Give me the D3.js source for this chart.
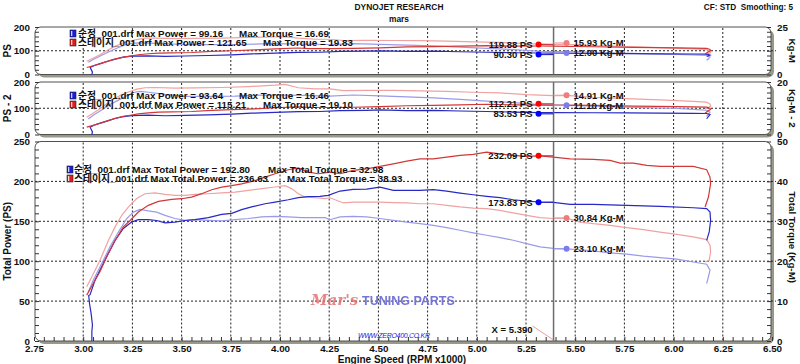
<!DOCTYPE html>
<html><head><meta charset="utf-8">
<script src="https://cdn.jsdelivr.net/npm/d3@7"></script>
<style>
body{margin:0;background:#fff}
svg text{font-family:"Liberation Sans",Arial,"Noto Sans CJK KR",sans-serif;font-weight:bold;font-size:9.8px;fill:#111}
</style></head>
<body><svg id="c" width="800" height="364"></svg>
<script>
// ---------------- DATA ----------------
const rpmTicks = [2.75,3.00,3.25,3.50,3.75,4.00,4.25,4.50,4.75,5.00,5.25,5.50,5.75,6.00,6.25,6.50];
const files = ["순정_001.drf","스테이지_001.drf"];
const cursorRpm = 5.39;
// per panel: [PS, PS - 2, Total]
const stockMaxPower = [99.16, 93.64, 192.80];
const stockMaxTorque = [16.69, 16.46, 32.98];
const stageMaxPower = [121.65, 115.21, 236.63];
const stageMaxTorque = [19.83, 19.10, 38.93];
const stockPowerAtCursor = [90.30, 83.53, 173.83];
const stagePowerAtCursor = [119.88, 112.21, 232.09];
const stockTorqueAtCursor = [12.00, 11.10, 23.10];
const stageTorqueAtCursor = [15.93, 14.91, 30.84];

// Panel 1 (PS), [rpm x1000, value]
const stockPower1 = [[3.044,0],[3.047,10],[3.035,30],[3.06,39],[3.094,48],[3.128,57],[3.162,65],[3.204,73],[3.246,77],[3.33,78.5],[3.416,76.5],[3.517,78],[3.636,80],[3.755,82.7],[3.856,86.8],[3.975,90],[4.093,92.8],[4.203,93.7],[4.305,97.1],[4.44,98.4],[4.508,99.16],[4.644,97.6],[4.779,98],[4.915,95.8],[5.05,93.7],[5.185,91.5],[5.32,90.5],[5.389,90.3],[5.592,88.5],[5.762,87.9],[5.931,87.2],[6.1,86.3],[6.168,85.7],[6.185,82],[6.168,76]];
const stagePower1 = [[3.018,29.6],[3.051,37],[3.085,44.6],[3.119,54.2],[3.162,64.8],[3.204,73.5],[3.238,77.6],[3.28,83.1],[3.331,87.4],[3.382,90],[3.45,91.2],[3.551,92.7],[3.653,97.5],[3.755,100],[3.873,103.3],[3.975,107.7],[4.093,111.5],[4.144,108.8],[4.254,108.8],[4.372,109.9],[4.508,112.5],[4.644,115.9],[4.779,117.3],[4.915,119.5],[5.05,121.65],[5.185,119.5],[5.32,119.9],[5.389,119.88],[5.592,116.9],[5.796,114.6],[6.016,112.5],[6.168,110.3],[6.185,105.6],[6.188,101.2],[6.16,86.4]];
const stockTorque1 = [[3.026,6.4],[3.051,7.9],[3.094,10.1],[3.136,12.2],[3.179,14.2],[3.221,15.9],[3.255,16.5],[3.289,16.69],[3.331,16.5],[3.416,16.2],[3.517,15.7],[3.636,15.7],[3.772,15.8],[3.907,16.1],[3.975,16.2],[4.11,16.0],[4.254,15.8],[4.372,16.2],[4.508,15.9],[4.644,15.5],[4.779,15.05],[4.915,14.4],[5.05,13.75],[5.185,13.1],[5.321,12.25],[5.389,12.0],[5.457,12.0],[5.677,11.45],[5.847,11.0],[6.016,10.6],[6.1,10.3],[6.168,10.0],[6.185,9.2],[6.177,8.3],[6.168,7.5]];
const stageTorque1 = [[3.018,7.0],[3.044,8.3],[3.085,10.4],[3.128,13.0],[3.162,14.8],[3.196,16.3],[3.23,17.4],[3.272,18.4],[3.314,19.1],[3.365,19.15],[3.466,18.85],[3.568,19.0],[3.704,19.15],[3.839,19.5],[3.975,19.8],[4.025,19.83],[4.093,19.1],[4.178,18.55],[4.254,18.55],[4.322,17.9],[4.44,18.0],[4.576,17.9],[4.711,17.8],[4.847,17.55],[4.982,17.2],[5.118,16.9],[5.253,16.3],[5.389,15.9],[5.457,15.93],[5.592,15.2],[5.762,14.7],[5.931,14.1],[6.1,13.5],[6.168,13.1],[6.185,12.4],[6.188,11.5],[6.16,10.2]];

// Panel 2 (PS - 2)
const stockPower2 = [[3.044,0],[3.047,10],[3.035,28],[3.06,37],[3.094,45],[3.128,53],[3.162,61],[3.204,68],[3.246,72],[3.33,73.5],[3.416,71.5],[3.517,73],[3.636,74.6],[3.755,77.3],[3.856,81.2],[3.975,84],[4.093,86.8],[4.203,87.6],[4.305,90.8],[4.44,92],[4.508,93.64],[4.644,91.2],[4.779,91.6],[4.915,89.6],[5.05,87.6],[5.185,85.5],[5.32,83.7],[5.389,83.53],[5.592,82.8],[5.762,82.1],[5.931,81.6],[6.1,80.7],[6.168,80.1],[6.185,76],[6.168,60]];
const stagePower2 = [[3.018,27.9],[3.051,35],[3.085,42.1],[3.119,51.2],[3.162,61.2],[3.204,69.5],[3.238,73.4],[3.28,78.6],[3.331,82.6],[3.382,85],[3.45,86.3],[3.551,87.7],[3.653,92.1],[3.755,94.6],[3.873,97.7],[3.975,101.9],[4.093,105.5],[4.144,102.9],[4.254,102.9],[4.372,103.9],[4.508,106.3],[4.644,109.5],[4.779,111],[4.915,113],[5.05,115.21],[5.185,113],[5.32,112.2],[5.389,112.21],[5.592,110.6],[5.796,108.4],[6.016,106.3],[6.168,104.3],[6.185,99.8],[6.188,95.8],[6.16,81.6]];
const stockTorque2 = [[3.026,5.9],[3.051,7.3],[3.094,9.3],[3.136,11.4],[3.179,13.1],[3.221,14.8],[3.255,16.0],[3.289,16.46],[3.331,16.1],[3.416,15.3],[3.517,14.55],[3.636,14.55],[3.772,14.6],[3.907,15.0],[3.975,15.05],[4.11,14.9],[4.254,14.6],[4.372,15.05],[4.508,14.75],[4.644,14.35],[4.779,13.95],[4.915,13.35],[5.05,12.75],[5.185,12.15],[5.321,11.35],[5.389,11.1],[5.457,11.1],[5.677,10.6],[5.847,10.25],[6.016,9.9],[6.1,9.55],[6.168,9.25],[6.185,8.5],[6.177,7.8],[6.168,6.9]];
const stageTorque2 = [[3.018,6.6],[3.044,7.8],[3.085,9.8],[3.128,12.2],[3.162,13.8],[3.196,15.2],[3.23,16.2],[3.272,17.3],[3.314,17.8],[3.365,17.9],[3.466,17.65],[3.568,17.75],[3.704,17.9],[3.839,18.25],[3.975,18.8],[4.025,19.1],[4.093,17.8],[4.178,17.4],[4.254,17.4],[4.322,16.7],[4.44,16.8],[4.576,16.8],[4.711,16.6],[4.847,16.45],[4.982,16.1],[5.118,15.85],[5.253,15.2],[5.389,14.8],[5.457,14.91],[5.592,14.2],[5.762,13.7],[5.931,13.2],[6.1,12.6],[6.168,12.3],[6.185,11.6],[6.188,10.8],[6.16,9.6]];

// Panel 3 (Total)
const stockPowerT = [[3.044,0],[3.044,12],[3.047,20],[3.040,35],[3.032,47],[3.028,57],[3.035,58],[3.06,76],[3.094,93],[3.128,110],[3.162,126],[3.204,141],[3.246,149],[3.28,152],[3.33,152],[3.373,151],[3.416,148],[3.466,149],[3.517,151],[3.568,152],[3.636,154.6],[3.704,158.7],[3.755,160],[3.805,164.6],[3.856,168],[3.924,172],[3.975,174],[4.042,177],[4.093,179.6],[4.144,181],[4.203,181.3],[4.245,182.5],[4.305,187.9],[4.372,190],[4.44,190.4],[4.508,192.8],[4.576,188.8],[4.644,188.8],[4.711,188.8],[4.779,189.6],[4.847,187.9],[4.915,185.4],[4.982,183.3],[5.05,181.3],[5.118,179.6],[5.185,177],[5.253,175.4],[5.32,174.2],[5.389,173.8],[5.474,171.3],[5.592,171.3],[5.762,170],[5.931,168.8],[6.1,167],[6.168,165.8],[6.185,161.7],[6.188,151],[6.181,136.7],[6.168,126]];
const stagePowerT = [[3.018,57.5],[3.051,72],[3.085,86.7],[3.119,105.4],[3.162,126],[3.204,143],[3.238,151],[3.28,161.7],[3.331,170],[3.382,175],[3.45,177.5],[3.5,178.3],[3.551,180.4],[3.602,184.6],[3.653,189.6],[3.704,192.9],[3.755,194.6],[3.805,197],[3.873,201],[3.924,205.4],[3.975,209.6],[4.042,214.6],[4.093,217],[4.144,211.7],[4.195,209.6],[4.254,211.7],[4.305,209.6],[4.372,213.8],[4.44,215.8],[4.508,218.8],[4.576,222],[4.644,225.4],[4.711,228.3],[4.779,228.3],[4.847,230.4],[4.915,232.5],[4.982,233.8],[5.05,236.6],[5.118,234.6],[5.185,232.5],[5.253,231.3],[5.32,232.1],[5.389,230.4],[5.474,228.3],[5.592,227.5],[5.677,226.3],[5.728,223],[5.796,223],[5.864,220],[5.931,218.8],[6.016,218.8],[6.1,218.8],[6.168,214.6],[6.185,205.4],[6.188,197],[6.177,180.4],[6.16,168]];
const stockTorqueT = [[3.026,12.3],[3.051,15.2],[3.094,19.4],[3.136,23.6],[3.179,27.3],[3.221,30.7],[3.255,32.3],[3.289,32.98],[3.331,32.6],[3.373,32.3],[3.416,31.5],[3.466,30.7],[3.517,30.25],[3.568,30.4],[3.636,30.25],[3.704,30.1],[3.772,30.4],[3.839,30.7],[3.907,31.1],[3.975,31.25],[4.042,31.1],[4.11,30.9],[4.178,30.9],[4.229,30.9],[4.254,30.4],[4.305,31.1],[4.372,31.25],[4.44,31.1],[4.508,30.7],[4.576,30.25],[4.644,29.8],[4.711,29.4],[4.779,29.0],[4.847,28.4],[4.915,27.75],[4.982,27.1],[5.05,26.5],[5.118,25.9],[5.185,25.25],[5.253,24.4],[5.321,23.6],[5.389,23.2],[5.457,23.1],[5.559,22.75],[5.677,22.1],[5.762,21.75],[5.847,21.25],[5.931,20.9],[6.016,20.5],[6.1,19.8],[6.168,19.25],[6.185,17.75],[6.177,16.1],[6.168,14.4]];
const stageTorqueT = [[3.018,13.6],[3.044,16.1],[3.085,20.2],[3.128,25.2],[3.162,28.6],[3.196,31.5],[3.23,33.6],[3.272,35.7],[3.314,36.9],[3.365,37.1],[3.416,36.75],[3.466,36.5],[3.517,36.5],[3.568,36.75],[3.636,36.9],[3.704,37.1],[3.772,37.3],[3.839,37.75],[3.907,38.2],[3.975,38.6],[4.025,38.93],[4.059,38.2],[4.093,36.9],[4.127,36.1],[4.178,35.9],[4.229,35.7],[4.254,35.9],[4.322,34.6],[4.372,34.8],[4.44,34.8],[4.508,34.8],[4.576,34.7],[4.644,34.6],[4.711,34.4],[4.779,34.4],[4.847,34.0],[4.915,33.6],[4.982,33.3],[5.05,33.2],[5.118,32.75],[5.185,32.1],[5.253,31.5],[5.321,30.9],[5.389,30.7],[5.457,30.8],[5.525,29.8],[5.592,29.4],[5.677,29.0],[5.762,28.4],[5.847,27.9],[5.931,27.3],[6.016,26.7],[6.1,26.1],[6.168,25.4],[6.185,24.0],[6.188,22.3],[6.181,20.2],[6.16,19.8]];

// ---------------- CHART ----------------
const svg = d3.select("#c");
const colStockP = "#2828c4", colStageP = "#d23838", colStockT = "#9a9aea", colStageT = "#f0a2a2";
const x = d3.scaleLinear().domain([2.75, 6.5]).range([34, 772]);
const X0 = 35, X1 = 771;

const panels = [
  {top:27, bottom:74.5, lMax:200, rMax:25, lTicks:[0,100,200], rTicks:[0,25], grid:[100], lMinor:20, rMinor:2.5,
   lTitle:"PS", rTitle:"Kg-M", sp:stockPower1, gp:stagePower1, st:stockTorque1, gt:stageTorque1,
   leg:["Max Power","Max Torque"], legY:33.5, iconX:70, textX:78, tqX:[239,263]},
  {top:82, bottom:134.5, lMax:200, rMax:20, lTicks:[0,100,200], rTicks:[0,20], grid:[100], lMinor:20, rMinor:2,
   lTitle:"PS - 2", rTitle:"Kg-M - 2", sp:stockPower2, gp:stagePower2, st:stockTorque2, gt:stageTorque2,
   leg:["Max Power","Max Torque"], legY:95.5, iconX:70, textX:78, tqX:[239,263]},
  {top:141.5, bottom:341, lMax:250, rMax:50, lTicks:[0,50,100,150,200,250], rTicks:[0,10,20,30,40,50], grid:[50,100,150,200], lMinor:10, rMinor:2,
   lTitle:"Total Power (PS)", rTitle:"Total Torque (Kg-M)", sp:stockPowerT, gp:stagePowerT, st:stockTorqueT, gt:stageTorqueT,
   leg:["Max Total Power","Max Total Torque"], legY:169.5, iconX:67, textX:74, tqX:[268,287]}
];

// keep two readout labels at least 10px apart (as the dyno software does)
function spread(a, b) {
  if (b - a >= 10) return [a, b];
  const m = (a + b) / 2;
  return [m - 5, m + 5];
}

// title
svg.append("text").attr("x",399).attr("y",10).attr("text-anchor","middle").style("font-size","8.4px").text("DYNOJET RESEARCH");
svg.append("text").attr("x",399).attr("y",22).attr("text-anchor","middle").style("font-size","8.4px").text("mars");
svg.append("text").attr("x",793).attr("y",9.5).attr("text-anchor","end").style("font-size","8.2px").text("CF: STD\u00A0\u00A0Smoothing: 5");

panels.forEach((p, i) => {
  const yL = d3.scaleLinear().domain([0, p.lMax]).range([p.bottom, p.top]);
  const yR = d3.scaleLinear().domain([0, p.rMax]).range([p.bottom, p.top]);
  const g = svg.append("g");
  // shadow + frame
  g.append("rect").attr("x",X0+3).attr("y",p.top+3).attr("width",X1-X0).attr("height",p.bottom-p.top)
    .attr("rx",6).attr("fill","#99998a");
  g.append("rect").attr("x",X0).attr("y",p.top).attr("width",X1-X0).attr("height",p.bottom-p.top)
    .attr("rx",6).attr("fill","#fff").attr("stroke","#505050").attr("stroke-width",1);
  // grid
  rpmTicks.filter(t => t > 2.8 && t < 6.45).forEach(t => {
    g.append("line").attr("x1",x(t)).attr("x2",x(t)).attr("y1",p.top+1).attr("y2",p.bottom-1)
      .attr("stroke","#222").attr("stroke-width",1).attr("stroke-dasharray","2,2");
  });
  p.grid.forEach(v => {
    g.append("line").attr("x1",31).attr("x2",776).attr("y1",yL(v)).attr("y2",yL(v))
      .attr("stroke","#222").attr("stroke-width",1).attr("stroke-dasharray","2,2");
  });
  // minor ticks
  const lm = g.append("g").attr("transform",`translate(${X0},0)`)
    .call(d3.axisRight(yL).tickValues(d3.range(0, p.lMax + 0.001, p.lMinor)).tickSize(4).tickFormat(""));
  const rm = g.append("g").attr("transform",`translate(${X1},0)`)
    .call(d3.axisLeft(yR).tickValues(d3.range(0, p.rMax + 0.001, p.rMinor)).tickSize(4).tickFormat(""));
  [lm, rm].forEach(a => { a.select(".domain").remove(); a.selectAll("line").attr("stroke","#333"); });
  // labels
  const la = g.append("g").attr("transform",`translate(33,0)`)
    .call(d3.axisLeft(yL).tickValues(p.lTicks).tickSize(0).tickPadding(3).tickFormat(d3.format("d")));
  const ra = g.append("g").attr("transform",`translate(774,0)`)
    .call(d3.axisRight(yR).tickValues(p.rTicks).tickSize(0).tickPadding(3).tickFormat(d3.format("d")));
  [la, ra].forEach(a => { a.select(".domain").remove(); a.selectAll("text").attr("font-family",null).attr("font-size",null).style("font-size","9.8px"); });
  // axis titles
  const cy = (p.top + p.bottom) / 2;
  g.append("text").attr("transform",`translate(11,${cy}) rotate(-90)`).attr("text-anchor","middle").style("font-size","10px").text(p.lTitle);
  g.append("text").attr("transform",`translate(789,${cy - (i===2?4:0)}) rotate(90)`).attr("text-anchor","middle").style("font-size","9.8px").text(p.rTitle);

  if (i === 2) {
    // x axis
    const xm = g.append("g").attr("transform",`translate(0,${p.bottom})`)
      .call(d3.axisTop(x).tickValues(d3.range(2.75, 6.5001, 0.05)).tickSize(4).tickFormat(""));
    xm.select(".domain").remove(); xm.selectAll("line").attr("stroke","#333");
    const xa = g.append("g").attr("transform",`translate(0,${p.bottom+1})`)
      .call(d3.axisBottom(x).tickValues(rpmTicks).tickSize(0).tickPadding(3).tickFormat(d3.format(".2f")));
    xa.select(".domain").remove();
    xa.selectAll("text").attr("font-family",null).attr("font-size",null).style("font-size","9.8px");
    svg.append("text").attr("x",402).attr("y",362.5).attr("text-anchor","middle").style("font-size","10px").text("Engine Speed (RPM x1000)");
    // watermark
    const defs = svg.append("defs");
    defs.append("filter").attr("id","blur").append("feGaussianBlur").attr("stdDeviation",0.7);
    g.append("text").attr("x",311).attr("y",305).attr("filter","url(#blur)")
      .style("font-family","'DejaVu Serif',serif").style("font-style","italic").style("font-size","15px")
      .style("fill","#e26a6a").style("opacity",0.8).text("Mar's");
    g.append("text").attr("x",362).attr("y",304.5).attr("filter","url(#blur)")
      .style("font-size","12.5px").style("fill","#7474d6").text("TUNING PARTS");
    g.append("text").attr("x",358).attr("y",337.5).style("font-style","italic").style("font-weight","normal")
      .style("font-size","7px").style("fill","#2020e0").attr("textLength",72).text("WWW.ZERO400.CO.KR");
  }

  // lines
  const lineL = d3.line().x(d => x(d[0])).y(d => yL(d[1]));
  const lineR = d3.line().x(d => x(d[0])).y(d => yR(d[1]));
  g.append("path").attr("d",lineR(p.st)).attr("fill","none").attr("stroke",colStockT).attr("stroke-width",1.2);
  g.append("path").attr("d",lineR(p.gt)).attr("fill","none").attr("stroke",colStageT).attr("stroke-width",1.2);
  g.append("path").attr("d",lineL(p.sp)).attr("fill","none").attr("stroke",colStockP).attr("stroke-width",1.2);
  g.append("path").attr("d",lineL(p.gp)).attr("fill","none").attr("stroke",colStageP).attr("stroke-width",1.2);

  // cursor
  const cx = x(cursorRpm);
  g.append("line").attr("x1",cx).attr("x2",cx).attr("y1",p.top).attr("y2",p.bottom).attr("stroke","#6c6c6c").attr("stroke-width",1.5);

  // markers (readouts)
  const pY = spread(yL(stagePowerAtCursor[i]), yL(stockPowerAtCursor[i]));
  const pm = [[stagePowerAtCursor[i], pY[0], colStageP, "#ff0000"],[stockPowerAtCursor[i], pY[1], colStockP, "#0000ff"]];
  pm.forEach(([v, yy, lc, mc]) => {
    g.append("line").attr("x1",cx-15).attr("x2",cx).attr("y1",yy).attr("y2",yy).attr("stroke",lc).attr("stroke-width",1.2);
    g.append("circle").attr("cx",cx-15).attr("cy",yy).attr("r",3).attr("fill",mc);
    g.append("text").attr("x",cx-21).attr("y",yy).attr("dy","0.35em").attr("text-anchor","end").style("font-size","9.5px").text(d3.format(".2f")(v)+" PS");
  });
  const tY = spread(yR(stageTorqueAtCursor[i]), yR(stockTorqueAtCursor[i]));
  const tm = [[stageTorqueAtCursor[i], tY[0], colStageT, "#f07c7c"],[stockTorqueAtCursor[i], tY[1], colStockT, "#7c7cf0"]];
  tm.forEach(([v, yy, lc, mc]) => {
    g.append("line").attr("x1",cx).attr("x2",cx+13).attr("y1",yy).attr("y2",yy).attr("stroke",lc).attr("stroke-width",1.2);
    g.append("circle").attr("cx",cx+13).attr("cy",yy).attr("r",3).attr("fill",mc);
    g.append("text").attr("x",cx+20).attr("y",yy).attr("dy","0.35em").style("font-size","9.5px").text(d3.format(".2f")(v)+" Kg-M");
  });

  // legend
  const rows = [[files[0], stockMaxPower[i], stockMaxTorque[i], "#1c1cd8"],[files[1], stageMaxPower[i], stageMaxTorque[i], "#e01c1c"]];
  rows.forEach(([f, mp, mt, c], r) => {
    const yy = p.legY + r * 9;
    g.append("rect").attr("x",p.iconX).attr("y",yy-3.5).attr("width",6).attr("height",7).attr("fill",c).attr("stroke","#222").attr("stroke-width",0.6);
    g.append("rect").attr("x",p.iconX+1).attr("y",yy-2.5).attr("width",1.3).attr("height",5).attr("fill","#fff").attr("opacity",0.8);
    g.append("text").attr("x",p.textX).attr("y",yy).attr("dy","0.35em").text(`${f} ${p.leg[0]} = ${d3.format(".2f")(mp)}`);
    g.append("text").attr("x",p.tqX[r]).attr("y",yy).attr("dy","0.35em").text(`${p.leg[1]} = ${d3.format(".2f")(mt)}`);
  });

  if (i === 2) {
    g.append("line").attr("x1",cx-21).attr("y1",326).attr("x2",cx).attr("y2",340).attr("stroke","#e08080").attr("stroke-width",0.8);
    g.append("text").attr("x",cx-21).attr("y",330).attr("dy","0.35em").attr("text-anchor","end").style("font-size","9.5px").text("X = " + d3.format(".3f")(cursorRpm));
  }
});
</script>
</body></html>
